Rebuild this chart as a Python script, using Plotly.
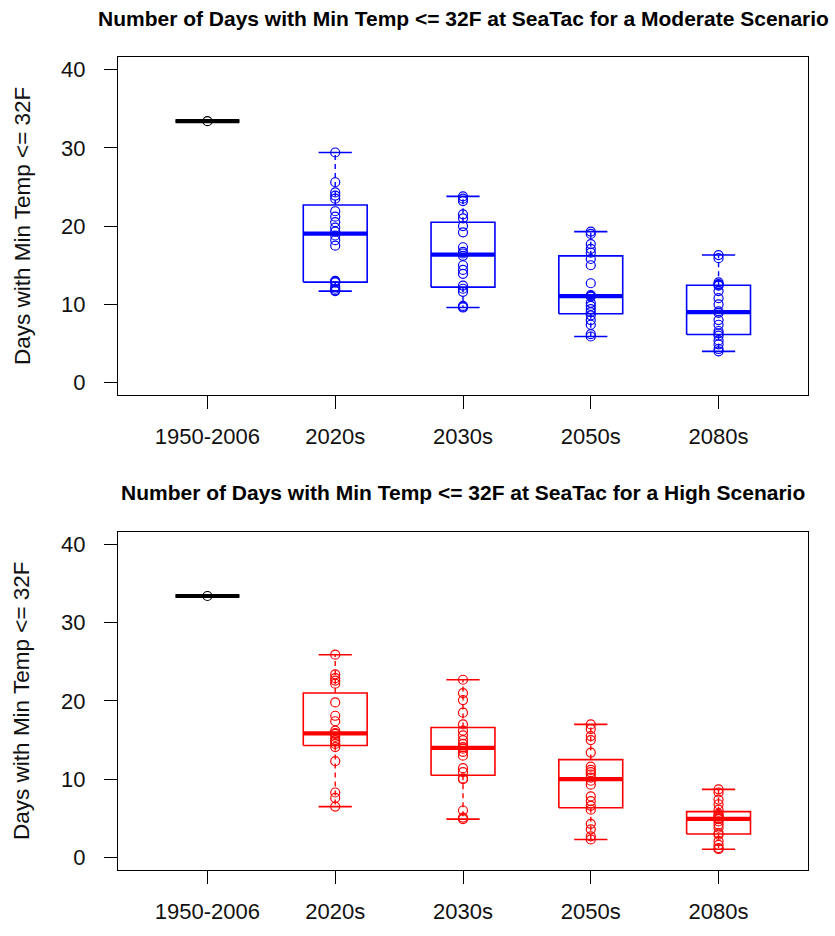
import math
import plotly.graph_objects as go

# ---------------- data ----------------
categories = ["1950-2006", "2020s", "2030s", "2050s", "2080s"]
baseline_value = [33.4]

moderate_2020s = [29.4, 25.6, 24.3, 23.9, 23.5, 21.9, 21.2, 20.5, 19.8, 19.3,
                  18.8, 18.2, 17.5, 13.0, 12.9, 12.8, 12.3, 12.0, 11.8, 11.7]
moderate_2030s = [23.8, 23.5, 23.2, 21.5, 21.0, 20.0, 19.2, 17.3, 16.7, 16.5,
                  16.2, 15.0, 14.4, 13.9, 12.4, 12.0, 11.6, 9.8, 9.7, 9.6]
moderate_2050s = [19.3, 19.0, 17.7, 17.1, 16.6, 15.8, 15.0, 12.7, 11.2, 11.1,
                  11.0, 10.2, 9.8, 9.4, 9.0, 8.6, 8.0, 7.4, 6.2, 5.9]
moderate_2080s = [16.3, 15.9, 12.8, 12.6, 12.5, 12.4, 11.7, 10.8, 10.0, 9.1,
                  8.9, 8.0, 7.4, 6.6, 6.3, 6.0, 5.4, 4.9, 4.3, 4.0]

high_2020s = [25.9, 23.4, 22.9, 22.6, 22.2, 19.8, 18.1, 17.4, 16.2, 15.9,
              15.8, 15.4, 15.0, 14.8, 14.5, 14.1, 12.3, 8.3, 7.6, 6.5]
high_2030s = [22.7, 21.0, 20.1, 18.5, 17.0, 16.2, 15.6, 15.0, 14.5, 14.1,
              13.9, 13.5, 13.0, 11.4, 10.9, 10.1, 10.0, 6.0, 5.1, 4.9]
high_2050s = [17.0, 16.4, 15.5, 15.0, 13.4, 11.6, 11.2, 10.9, 10.6, 10.2,
              9.8, 9.3, 7.8, 7.2, 6.6, 6.1, 4.3, 3.6, 2.7, 2.3]
high_2080s = [8.7, 8.3, 7.4, 6.8, 6.1, 5.6, 5.4, 5.2, 5.0, 4.95,
              4.9, 4.6, 4.2, 3.8, 3.1, 2.9, 2.1, 1.6, 1.2, 1.05]

titles = ["Number of Days with Min Temp <= 32F at SeaTac for a Moderate Scenario",
          "Number of Days with Min Temp <= 32F at SeaTac for a High Scenario"]
y_title = "Days with Min Temp <= 32F"
y_ticks = [0, 10, 20, 30, 40]

panels = [
    (baseline_value, [moderate_2020s, moderate_2030s, moderate_2050s, moderate_2080s], "#0000FF"),
    (baseline_value, [high_2020s, high_2030s, high_2050s, high_2080s], "#FF0000"),
]

# ---------------- helpers ----------------
BOX_HALF = 0.25
STAPLE_HALF = 0.13
FONT = "Liberation Sans, Arial, sans-serif"


def fivenum(vals):
    x = sorted(vals)
    n = len(x)
    n4 = math.floor((n + 3) / 2) / 2
    d = [1, n4, (n + 1) / 2, n + 1 - n4, n]
    return [0.5 * (x[math.floor(di - 1)] + x[math.ceil(di - 1)]) for di in d]


def box_stats(vals):
    _, q1, med, q3, _ = fivenum(vals)
    iqr = q3 - q1
    lo = min(v for v in vals if v >= q1 - 1.5 * iqr)
    hi = max(v for v in vals if v <= q3 + 1.5 * iqr)
    return lo, q1, med, q3, hi


fig = go.Figure()


def add_box(vals, pos, color, xa, ya):
    lo, q1, med, q3, hi = box_stats(vals)
    common = dict(xaxis=xa, yaxis=ya, showlegend=False, hoverinfo="skip")
    # whiskers (dashed)
    fig.add_trace(go.Scatter(x=[pos, pos, None, pos, pos], y=[q3, hi, None, q1, lo],
                             mode="lines", line=dict(color=color, width=1.4, dash="5px,4px"), **common))
    # staples
    fig.add_trace(go.Scatter(x=[pos - STAPLE_HALF, pos + STAPLE_HALF, None, pos - STAPLE_HALF, pos + STAPLE_HALF],
                             y=[hi, hi, None, lo, lo],
                             mode="lines", line=dict(color=color, width=1.6), **common))
    # box
    fig.add_trace(go.Scatter(x=[pos - BOX_HALF, pos + BOX_HALF, pos + BOX_HALF, pos - BOX_HALF, pos - BOX_HALF],
                             y=[q1, q1, q3, q3, q1],
                             mode="lines", line=dict(color=color, width=1.6), **common))
    # median
    fig.add_trace(go.Scatter(x=[pos - BOX_HALF, pos + BOX_HALF], y=[med, med],
                             mode="lines", line=dict(color=color, width=4.2), **common))
    # points
    fig.add_trace(go.Scatter(x=[pos] * len(vals), y=vals, mode="markers",
                             marker=dict(symbol="circle-open", size=9, color=color,
                                         line=dict(width=1.2, color=color)), **common))


for i, (base, groups, color) in enumerate(panels):
    xa = "x" if i == 0 else "x2"
    ya = "y" if i == 0 else "y2"
    add_box(base, 1, "#000000", xa, ya)
    for j, g in enumerate(groups):
        add_box(g, j + 2, color, xa, ya)

axis_common = dict(showline=True, mirror=True, linecolor="black", linewidth=1.2,
                   ticks="outside", ticklen=13, tickwidth=1.2, tickcolor="black",
                   showgrid=False, zeroline=False,
                   tickfont=dict(family=FONT, size=22, color="#111111"))

xcommon = dict(axis_common, range=[0.3, 5.7], tickmode="array",
               tickvals=[k + 1 for k in range(len(categories))], ticktext=categories,
               ticklabelstandoff=8)
ycommon = dict(axis_common, range=[-1.6, 41.6], tickmode="array", tickvals=y_ticks,
               ticklabelstandoff=14)

fig.update_layout(
    width=835, height=936,
    margin=dict(l=118, r=27, t=57, b=52),
    paper_bgcolor="white", plot_bgcolor="white",
    xaxis=dict(xcommon, domain=[0, 1], anchor="y"),
    yaxis=dict(ycommon, domain=[0.584, 1], anchor="x"),
    xaxis2=dict(xcommon, domain=[0, 1], anchor="y2"),
    yaxis2=dict(ycommon, domain=[0, 0.416], anchor="x2"),
)

for i, (xa, ya) in enumerate([("x", "y"), ("x2", "y2")]):
    fig.add_annotation(text="<b>" + titles[i] + "</b>", xref=xa + " domain", yref=ya + " domain",
                       x=0.5, y=1, yshift=39, xanchor="center", yanchor="middle", showarrow=False,
                       font=dict(family=FONT, size=21, color="black"))
    fig.add_annotation(text=y_title, xref=xa + " domain", yref=ya + " domain",
                       x=0, y=0.5, xshift=-96, xanchor="center", yanchor="middle", textangle=-90,
                       showarrow=False, font=dict(family=FONT, size=22.5, color="#111111"))

fig.write_html("out.html", config={"displayModeBar": False},
               post_script="document.body.style.margin='0px';")
